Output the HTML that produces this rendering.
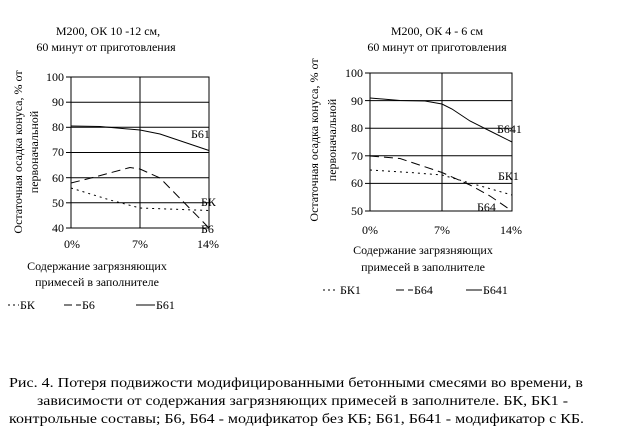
<!DOCTYPE html>
<html><head><meta charset="utf-8"><style>
body{margin:0;background:#fff}
svg{display:block;font-family:"Liberation Serif","DejaVu Serif",serif}
</style></head><body>
<svg width="635" height="428" viewBox="0 0 635 428" xmlns="http://www.w3.org/2000/svg">
<rect width="635" height="428" fill="#fff"/>
<g font-size="12" fill="#000" text-anchor="middle">
<text x="108" y="35">М200, ОК 10 -12 см,</text>
<text x="106" y="51">60 минут от приготовления</text>
<text x="437" y="35">М200, ОК  4 - 6 см</text>
<text x="437" y="51">60 минут от приготовления</text>
</g>
<!-- Left chart -->
<g stroke="#000" stroke-width="1" fill="none">
<rect x="71" y="77" width="138" height="151"/>
<line x1="140" y1="77" x2="140" y2="228"/>
<line x1="71" y1="102.2" x2="209" y2="102.2"/>
<line x1="71" y1="127.3" x2="209" y2="127.3"/>
<line x1="71" y1="152.5" x2="209" y2="152.5"/>
<line x1="71" y1="177.7" x2="209" y2="177.7"/>
<line x1="71" y1="202.8" x2="209" y2="202.8"/>
<line x1="66" y1="77" x2="71" y2="77"/><line x1="66" y1="102.2" x2="71" y2="102.2"/><line x1="66" y1="127.3" x2="71" y2="127.3"/><line x1="66" y1="152.5" x2="71" y2="152.5"/><line x1="66" y1="177.7" x2="71" y2="177.7"/><line x1="66" y1="202.8" x2="71" y2="202.8"/><line x1="66" y1="228" x2="71" y2="228"/>
<polyline points="71,126 100,126.5 140,130 160,134 209,150.5"/>
<polyline stroke-dasharray="9,5" points="71,183 91,178 130,167.5 140,169 160,178 209,228"/>
<polyline stroke-dasharray="2,4" points="71,188 110,200 140,208 209,210.5"/>
</g>
<g font-size="12" text-anchor="end">
<text x="64" y="81">100</text><text x="64" y="106">90</text><text x="64" y="131">80</text><text x="64" y="156">70</text><text x="64" y="182">60</text><text x="64" y="207">50</text><text x="64" y="232">40</text>
</g>
<g font-size="12" text-anchor="middle">
<text x="72" y="248">0%</text><text x="140" y="248">7%</text><text x="208" y="248">14%</text>
<text x="97" y="270">Содержание загрязняющих</text>
<text x="97" y="286">примесей в заполнителе</text>
</g>
<g font-size="12">
<text x="191" y="138">Б61</text><text x="201" y="206">БК</text><text x="201" y="233">Б6</text>
<text transform="translate(22,152) rotate(-90)" text-anchor="middle">Остаточная осадка конуса, % от</text>
<text transform="translate(38,152) rotate(-90)" text-anchor="middle">первоначальной</text>
<text x="20" y="309">БК</text><text x="82" y="309">Б6</text><text x="156" y="309">Б61</text>
</g>
<g stroke="#000" fill="none">
<line x1="8" y1="305" x2="19" y2="305" stroke-dasharray="2,3"/>
<line x1="64" y1="305" x2="81" y2="305" stroke-dasharray="8,4"/>
<line x1="136" y1="305" x2="155" y2="305"/>
</g>
<!-- Right chart -->
<g stroke="#000" stroke-width="1" fill="none">
<rect x="370" y="73" width="142" height="138"/>
<line x1="442" y1="73" x2="442" y2="211"/>
<line x1="370" y1="100.6" x2="512" y2="100.6"/>
<line x1="370" y1="128.2" x2="512" y2="128.2"/>
<line x1="370" y1="155.8" x2="512" y2="155.8"/>
<line x1="370" y1="183.4" x2="512" y2="183.4"/>
<line x1="365" y1="73" x2="370" y2="73"/><line x1="365" y1="100.6" x2="370" y2="100.6"/><line x1="365" y1="128.2" x2="370" y2="128.2"/><line x1="365" y1="155.8" x2="370" y2="155.8"/><line x1="365" y1="183.4" x2="370" y2="183.4"/><line x1="365" y1="211" x2="370" y2="211"/>
<polyline points="370,98 400,100.5 425,101 442,104 452,109 470,121 490,131 512,142"/>
<polyline stroke-dasharray="9,5" points="370,156 400,158.5 442,172.5 470,185 490,196 512,211"/>
<polyline stroke-dasharray="2,4" points="370,170 410,172.5 442,175 470,183 512,195"/>
</g>
<g font-size="12" text-anchor="end">
<text x="363" y="77">100</text><text x="363" y="105">90</text><text x="363" y="132">80</text><text x="363" y="160">70</text><text x="363" y="187">60</text><text x="363" y="215">50</text>
</g>
<g font-size="12" text-anchor="middle">
<text x="370" y="234">0%</text><text x="442" y="234">7%</text><text x="511" y="234">14%</text>
<text x="423" y="254">Содержание загрязняющих</text>
<text x="423" y="271">примесей в заполнителе</text>
</g>
<g font-size="12">
<text x="497" y="133">Б641</text><text x="498" y="180">БК1</text><text x="477" y="211">Б64</text>
<text transform="translate(318,140) rotate(-90)" text-anchor="middle">Остаточная осадка конуса, % от</text>
<text transform="translate(336,140) rotate(-90)" text-anchor="middle">первоначальной</text>
<text x="340" y="294">БК1</text><text x="414" y="294">Б64</text><text x="483" y="294">Б641</text>
</g>
<g stroke="#000" fill="none">
<line x1="323" y1="290" x2="338" y2="290" stroke-dasharray="2,3"/>
<line x1="396" y1="290" x2="413" y2="290" stroke-dasharray="8,4"/>
<line x1="466" y1="290" x2="482" y2="290"/>
</g>
<!-- Caption -->
<g font-size="14">
<text x="9" y="387" textLength="574" lengthAdjust="spacingAndGlyphs">Рис. 4. Потеря подвижости модифицированными бетонными смесями во времени, в</text>
<text x="37" y="405" textLength="531" lengthAdjust="spacingAndGlyphs">зависимости от содержания загрязняющих примесей в заполнителе. БК, БК1 -</text>
<text x="9" y="423" textLength="575" lengthAdjust="spacingAndGlyphs">контрольные составы; Б6, Б64 - модификатор без КБ; Б61, Б641 - модификатор с КБ.</text>
</g>
</svg>
</body></html>
